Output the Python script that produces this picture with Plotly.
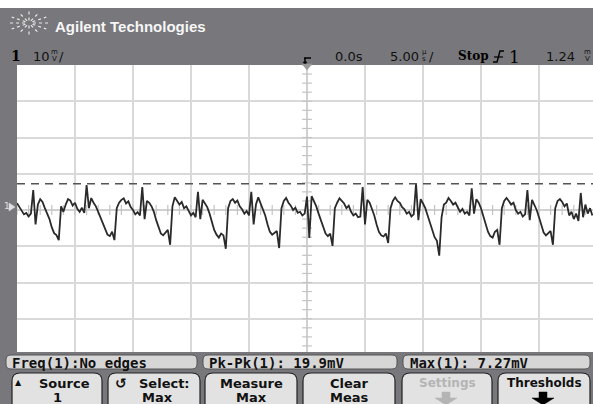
import numpy as np
import plotly.graph_objects as go

t_start_us = -25.0          # left edge of the screen (5 us/div, 10 div, centre 0.0 s)
dt_us = 0.2                 # sample spacing of the read-off trace
volts_mV = [
    1.9, 0.8, -0.3, -1.2, -0.8, -1.8, -1.0, 5.5, -4.0, 1.5,
    3.0, 2.2, 0.5, -0.8, -2.5, -4.8, -6.4, -6.9, -8.3, 1.0,
    -0.5, 1.5, 3.0, 2.6, 1.2, 2.0, 0.3, -0.5, 0.6, -0.8,
    6.9, 0.5, 3.3, 2.0, 1.0, -0.5, -2.0, -3.5, -5.5, -6.8,
    -7.2, -6.0, -8.3, 0.5, 2.0, 2.8, 3.2, 1.8, 2.4, 0.8,
    0.0, -1.2, -0.6, -1.5, 6.3, -2.5, 2.5, 2.0, 1.0, -0.5,
    -2.8, -5.0, -6.5, -7.0, -6.2, -5.5, -9.6, 1.0, 3.5, 2.5,
    1.5, 2.2, 0.5, 1.0, -0.5, -1.5, -0.8, -2.0, 5.0, -2.5,
    2.8, 1.8, 0.8, -1.0, -3.5, -5.5, -6.8, -7.6, -6.5, -7.0,
    -10.7, 0.5, 2.5, 3.0, 2.0, 2.6, 1.0, 0.2, -1.0, -0.3,
    -1.5, 5.0, -4.0, 1.5, 3.5, 2.0, 0.5, -1.5, -4.0, -6.0,
    -6.8, -6.2, -5.8, -10.5, 0.5, 2.5, 3.3, 2.0, 1.2, 0.0,
    0.6, -0.8, -0.5, -1.5, -1.0, 3.7, -7.7, 3.8, 2.5, 1.0,
    -1.0, -3.0, -5.0, -6.5, -7.2, -6.5, -9.9, 0.5, 2.0, 3.2,
    2.5, 1.8, 0.5, 1.2, -0.5, -1.5, -1.0, -2.0, -1.8, 6.3,
    -4.0, 2.8, 2.0, 0.5, -1.5, -4.0, -6.0, -7.0, -7.3, -6.5,
    -9.1, 0.5, 2.5, 3.5, 2.5, 2.0, 0.8, 0.2, -1.0, -0.5,
    -1.8, -1.2, 7.27, -2.8, 3.0, 1.8, 0.5, -1.5, -3.5, -5.5,
    -7.5, -8.5, -12.6, -2.0, 1.5, 2.0, 3.3, 2.5, 1.5, 2.0,
    0.5, -0.5, 0.3, -1.0, -0.5, -1.5, 6.0, -1.0, 3.0, 2.0,
    0.5, -1.5, -4.0, -6.0, -7.2, -7.6, -6.0, -5.5, -9.6, 0.5,
    2.5, 3.3, 2.5, 1.5, 2.0, 0.0, -1.0, -0.5, -1.8, -1.2,
    5.5, -2.8, 2.8, 1.5, 0.0, -2.0, -4.5, -6.2, -7.0, -6.4,
    -5.8, -9.6, 0.5, 2.5, 3.0, 2.2, 1.0, 1.8, -1.5, -0.5,
    -2.5, -1.0, -3.0, 4.7, -2.0, 1.5, -1.0, 0.5, -1.5,
]
max_mV = 7.27
pkpk_mV = 19.9
volts_per_div_mV = 10
time_per_div_us = 5.0

header_title = "Agilent Technologies"
meas_labels = ["Freq(1):No edges", "Pk-Pk(1): 19.9mV", "Max(1): 7.27mV"]
softkey_top = ["Source", "Select:", "Measure", "Clear", "Settings", "Thresholds"]
softkey_bottom = ["1", "Max", "Max", "Meas", "", ""]

time_us = t_start_us + dt_us * np.arange(len(volts_mV))

# ---------------- geometry helpers ----------------
W, H = 593, 404
L, R, T, B = 17, 593, 65, 355
PXDIV = 58.0
x_range = [-25.0, -25.0 + (R - L) / PXDIV * time_per_div_us]
y_range = [-4 * volts_per_div_mV, 4 * volts_per_div_mV]


def PX(x):
    return (x - L) / (R - L)


def PY(y):
    return (B - y) / (B - T)


GRAY = "#78787c"
shapes = []


def rect(x0, y0, x1, y1, fill, line=None, lw=0):
    shapes.append(dict(type="rect", xref="paper", yref="paper",
                       x0=PX(x0), x1=PX(x1), y0=PY(y1), y1=PY(y0),
                       fillcolor=fill, line=dict(width=lw, color=line or fill),
                       layer="above"))


def path(pts, fill=None, line="#000", lw=1, close=True):
    s = "M " + " L ".join(f"{PX(x):.5f},{PY(y):.5f}" for x, y in pts)
    if close:
        s += " Z"
    shapes.append(dict(type="path", xref="paper", yref="paper", path=s,
                       fillcolor=fill if fill else "rgba(0,0,0,0)",
                       line=dict(width=lw, color=line), layer="above"))


def rrect(x0, y0, x1, y1, r, fill, line, lw):
    def p(x, y):
        return f"{PX(x):.5f},{PY(y):.5f}"
    s = (f"M {p(x0+r, y0)} L {p(x1-r, y0)} Q {p(x1, y0)} {p(x1, y0+r)} "
         f"L {p(x1, y1-r)} Q {p(x1, y1)} {p(x1-r, y1)} L {p(x0+r, y1)} "
         f"Q {p(x0, y1)} {p(x0, y1-r)} L {p(x0, y0+r)} Q {p(x0, y0)} {p(x0+r, y0)} Z")
    shapes.append(dict(type="path", xref="paper", yref="paper", path=s,
                       fillcolor=fill, line=dict(width=lw, color=line), layer="above"))


def seg(x0, y0, x1, y1, color, w=1, dash="solid"):
    shapes.append(dict(type="line", xref="paper", yref="paper",
                       x0=PX(x0), y0=PY(y0), x1=PX(x1), y1=PY(y1),
                       line=dict(color=color, width=w, dash=dash), layer="above"))


annots = []


def text(x, y, s, size=12, color="#111", family="DejaVu Sans", anchor="left"):
    annots.append(dict(x=PX(x), y=PY(y), xref="paper", yref="paper", text=s,
                       showarrow=False, xanchor=anchor, yanchor="middle",
                       font=dict(size=size, color=color, family=family)))


# ---------------- frame ----------------
rect(0, 8, W, T, GRAY)              # header band
rect(0, T, L, 356, GRAY)            # left strip
rect(0, 352, W, H, GRAY)            # bottom band

# logo starburst (dotted rays)
cx, cy = 29, 23
for k in range(12):
    a = np.pi * k / 6
    seg(cx + 4 * np.cos(a), cy - 2.6 * np.sin(a),
        cx + 20 * np.cos(a), cy - 12 * np.sin(a), "#e8e8e8", 1.2, "dot")
text(53, 27, "<b>" + header_title + "</b>", 15, "#f6f6f6", "Liberation Sans")

# status line
SY = 56
text(9, SY, "<b>1</b>", 14, "#000", "DejaVu Serif")
text(31, SY, "10", 13, "#111")
text(54, SY - 3.5, "m", 7, "#111", anchor="center")
text(54, SY + 3, "V", 7, "#111", anchor="center")
text(57, SY, "/", 13, "#111")
# trigger position marker
path([(304, 58), (311, 58)], line="#000", lw=1.5, close=False)
path([(305, 58), (305, 63)], line="#000", lw=1.5, close=False)
path([(303, 62), (307, 62), (305, 65)], fill="#000", line="#000", lw=0.5)
path([(302, 64), (312, 64), (307, 70)], fill="#9a9a9a", line="#9a9a9a", lw=0.5)
text(333, SY, "0.0s", 13, "#111")
text(388, SY, "5.00", 13, "#111")
text(424, SY - 3.5, "µ", 7, "#111", anchor="center")
text(424, SY + 3, "s", 7, "#111", anchor="center")
text(427, SY, "/", 13, "#111")
text(456, SY, "<b>Stop</b>", 12, "#000", "DejaVu Serif")
# rising-edge trigger symbol
path([(493, 62), (497, 62), (500, 51), (504, 51)], line="#000", lw=1.4, close=False)
path([(494, 57), (503, 57)], line="#000", lw=1.2, close=False)
text(507, SY + 1, "1", 17, "#000", "DejaVu Serif")
text(544, SY, "1.24", 13, "#111")
text(587, SY - 3.5, "m", 7, "#111", anchor="center")
text(587, SY + 3, "V", 7, "#111", anchor="center")

# ground marker on left strip
text(2, 206, "1", 9, "#e0e0e0", anchor="left")
path([(9, 203), (15, 207), (9, 211)], fill="#e0e0e0", line="#e0e0e0", lw=0.5)

# measurement row
for (x0, x1) in [(6, 197), (203, 397), (403, 590)]:
    rrect(x0, 355, x1, 369, 5, "#d6d6d6", "#555", 1)
text(10, 362.5, "<b>" + meas_labels[0] + "</b>", 14, "#111", "DejaVu Sans Mono")
text(207, 362.5, "<b>" + meas_labels[1] + "</b>", 14, "#111", "DejaVu Sans Mono")
text(408, 362.5, "<b>" + meas_labels[2] + "</b>", 14, "#111", "DejaVu Sans Mono")

# soft keys
keys = [(12, 102), (108, 200), (205, 297), (303, 395), (402, 492), (498, 590)]
for i, (x0, x1) in enumerate(keys):
    rrect(x0, 373, x1, 412, 8, "#e2e2e2", "#222", 1.2)
    c = (x0 + x1) / 2
    col = "#b4b4b4" if softkey_top[i] == "Settings" else "#111"
    size = 12 if softkey_top[i] in ("Thresholds", "Settings") else 13
    off = {0: 7, 1: 10}.get(i, 0)
    text(c + off, 383, "<b>" + softkey_top[i] + "</b>", size, col, anchor="center")
    if softkey_bottom[i]:
        text(c + (3 if i == 1 else 0), 397.5, "<b>" + softkey_bottom[i] + "</b>", 13, col, anchor="center")
text(18, 382, "▲", 8, "#111", anchor="center")
text(121, 383, "<b>↺</b>", 14, "#111", anchor="center")
# arrows under Settings / Thresholds
for cxa, colr in [(446, "#b4b4b4"), (543, "#000")]:
    path([(cxa - 4, 392), (cxa + 4, 392), (cxa + 4, 398), (cxa + 11, 398),
          (cxa, 405), (cxa - 11, 398), (cxa - 4, 398)], fill=colr, line=colr, lw=0.5)

# max marker dashed line
shapes.append(dict(type="line", xref="paper", yref="y", x0=0, x1=1,
                   y0=max_mV, y1=max_mV, layer="above",
                   line=dict(color="#555", width=1.5, dash="8px,6px")))

# ---------------- traces ----------------
fig = go.Figure()
# centre-line minor ticks
vt = np.arange(y_range[0], y_range[1] + 0.01, volts_per_div_mV / 4)
ht = np.arange(-25.0, 25.01, time_per_div_us / 5)
fig.add_trace(go.Scatter(x=np.zeros_like(vt), y=vt, mode="markers",
                         marker=dict(symbol="line-ew", size=7,
                                     line=dict(color="#c4c4c4", width=1.2)),
                         hoverinfo="skip"))
fig.add_trace(go.Scatter(x=ht, y=np.zeros_like(ht), mode="markers",
                         marker=dict(symbol="line-ns", size=7,
                                     line=dict(color="#c4c4c4", width=1.2)),
                         hoverinfo="skip"))
fig.add_trace(go.Scatter(x=time_us, y=volts_mV, mode="lines",
                         line=dict(color="#2a2a2a", width=1.8),
                         hoverinfo="skip"))

fig.update_layout(
    width=W, height=H, showlegend=False,
    margin=dict(l=L, r=W - R, t=T, b=H - B, pad=0),
    paper_bgcolor="#ffffff", plot_bgcolor="#ffffff",
    shapes=shapes, annotations=annots,
    xaxis=dict(range=x_range, dtick=time_per_div_us, tick0=0, showgrid=True,
               gridcolor="#d9d9d9", gridwidth=2, zeroline=True,
               zerolinecolor="#d0d0d0", zerolinewidth=2,
               showticklabels=False, ticks="", showline=False, fixedrange=True),
    yaxis=dict(range=y_range, dtick=volts_per_div_mV, tick0=0, showgrid=True,
               gridcolor="#d9d9d9", gridwidth=2, zeroline=True,
               zerolinecolor="#d0d0d0", zerolinewidth=2,
               showticklabels=False, ticks="", showline=False, fixedrange=True),
)

fig.write_html("out.html", config={"displayModeBar": False},
               post_script="document.body.style.margin='0';document.body.style.overflow='hidden';")
